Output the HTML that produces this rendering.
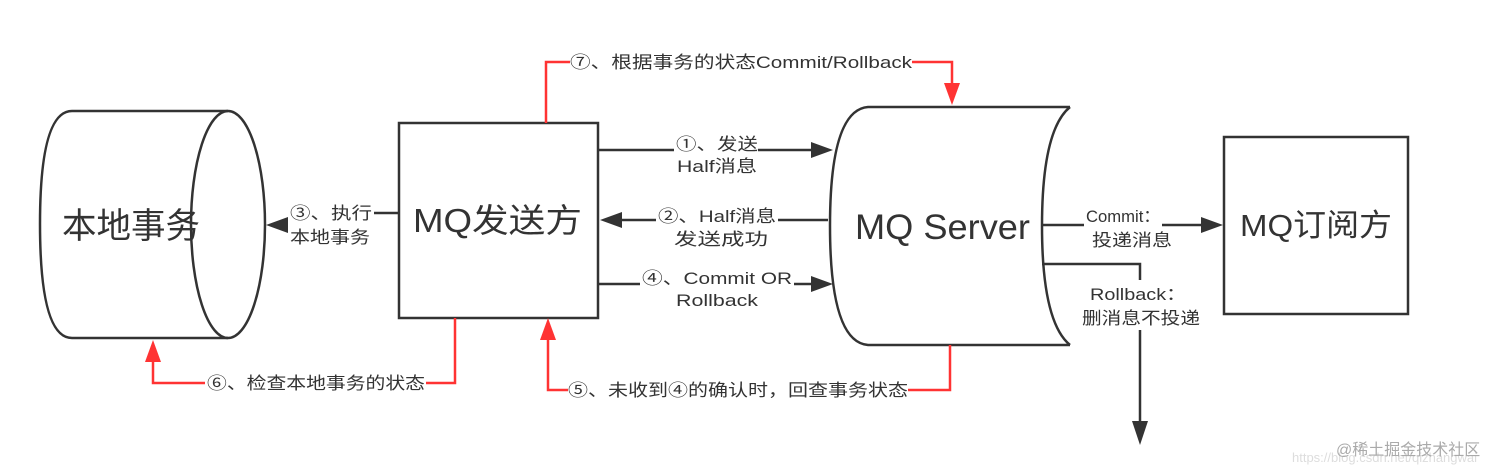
<!DOCTYPE html>
<html><head><meta charset="utf-8"><style>
html,body{margin:0;padding:0;background:#fff;}
svg{display:block;}
text{font-family:"Liberation Sans","Noto Sans CJK SC",sans-serif;fill:#333;}
</style></head><body>
<svg width="1512" height="476" viewBox="0 0 1512 476" xmlns="http://www.w3.org/2000/svg">
<g fill="none" stroke="#333" stroke-width="2.5">
<path d="M228,111 L72,111 Q40,111 40,224 Q40,338 72,338 L228,338"/>
<ellipse cx="228" cy="224.5" rx="37" ry="113.5"/>
<rect x="399" y="123" width="199" height="195"/>
<path d="M1070,107 L868,107 Q830,110 830,226 Q830,342 868,345 L1070,345"/>
<path d="M1070,107 Q1042,130 1042,226 Q1042,322 1070,345"/>
<rect x="1224" y="137" width="184" height="177"/>
</g>
<g stroke="#333" stroke-width="2.5" fill="none">
<line x1="598" y1="150" x2="674" y2="150"/>
<line x1="758" y1="150" x2="812" y2="150"/>
<line x1="828" y1="220" x2="778" y2="220"/>
<line x1="656" y1="220" x2="622" y2="220"/>
<line x1="598" y1="284" x2="640" y2="284"/>
<line x1="794" y1="284" x2="812" y2="284"/>
<line x1="399" y1="213" x2="374" y2="213"/>
<line x1="1042" y1="225" x2="1084" y2="225"/>
<line x1="1162" y1="225" x2="1202" y2="225"/>
<path d="M1042,264 L1140,264 L1140,280"/>
<line x1="1140" y1="330" x2="1140" y2="422"/>
</g>
<g fill="#333">
<path d="M833,150 L811,142 L811,158 z"/>
<path d="M600,220 L622,212 L622,228 z"/>
<path d="M833,284 L811,276 L811,292 z"/>
<path d="M266,225 L288,217 L288,233 z"/>
<path d="M1223,225 L1201,217 L1201,233 z"/>
<path d="M1140,445 L1132,421 L1148,421 z"/>
</g>
<g stroke="#f33" stroke-width="2.5" fill="none">
<path d="M546,123 L546,62 L570,62"/>
<path d="M912,62 L952,62 L952,86"/>
<path d="M455,318 L455,383 L426,383"/>
<path d="M205,383 L153,383 L153,360"/>
<path d="M950,345 L950,390 L908,390"/>
<path d="M568,390 L548,390 L548,340"/>
</g>
<g fill="#f33">
<path d="M952,105 L944,83 L960,83 z"/>
<path d="M153,340 L145,362 L161,362 z"/>
<path d="M548,318 L540,340 L556,340 z"/>
</g>
<g lengthAdjust="spacingAndGlyphs">
<text x="62" y="238" font-size="35" textLength="138" lengthAdjust="spacingAndGlyphs">本地事务</text>
<text x="413" y="232" font-size="33" textLength="169" lengthAdjust="spacingAndGlyphs">MQ发送方</text>
<text x="855" y="239" font-size="35" textLength="175" lengthAdjust="spacingAndGlyphs">MQ Server</text>
<text x="1240" y="236" font-size="31" textLength="152" lengthAdjust="spacingAndGlyphs">MQ订阅方</text>
</g>
<g font-size="17">
<text x="290" y="219" textLength="82" lengthAdjust="spacingAndGlyphs">③、执行</text>
<text x="290" y="243" textLength="80" lengthAdjust="spacingAndGlyphs">本地事务</text>
<text x="676" y="150" textLength="82" lengthAdjust="spacingAndGlyphs">①、发送</text>
<text x="677" y="172" textLength="80" lengthAdjust="spacingAndGlyphs">Half消息</text>
<text x="658" y="222" textLength="118" lengthAdjust="spacingAndGlyphs">②、Half消息</text>
<text x="674" y="245" textLength="94" lengthAdjust="spacingAndGlyphs">发送成功</text>
<text x="642" y="284" textLength="150" lengthAdjust="spacingAndGlyphs">④、Commit OR</text>
<text x="676" y="306" textLength="82" lengthAdjust="spacingAndGlyphs">Rollback</text>
<text x="1086" y="222" textLength="74" lengthAdjust="spacingAndGlyphs">Commit：</text>
<text x="1092" y="246" textLength="80" lengthAdjust="spacingAndGlyphs">投递消息</text>
<text x="1090" y="300" textLength="96" lengthAdjust="spacingAndGlyphs">Rollback：</text>
<text x="1082" y="324" textLength="118" lengthAdjust="spacingAndGlyphs">删消息不投递</text>
<text x="570" y="68" textLength="342" lengthAdjust="spacingAndGlyphs">⑦、根据事务的状态Commit/Rollback</text>
<text x="207" y="389" textLength="218" lengthAdjust="spacingAndGlyphs">⑥、检查本地事务的状态</text>
<text x="568" y="396" textLength="340" lengthAdjust="spacingAndGlyphs">⑤、未收到④的确认时，回查事务状态</text>
</g>
<text x="1292" y="462" font-size="13" style="fill:#ddd">https://blog.csdn.net/qizhangwai</text>
<text x="1336" y="455" font-size="16" style="fill:#aaa">@稀土掘金技术社区</text>
</svg>
</body></html>
